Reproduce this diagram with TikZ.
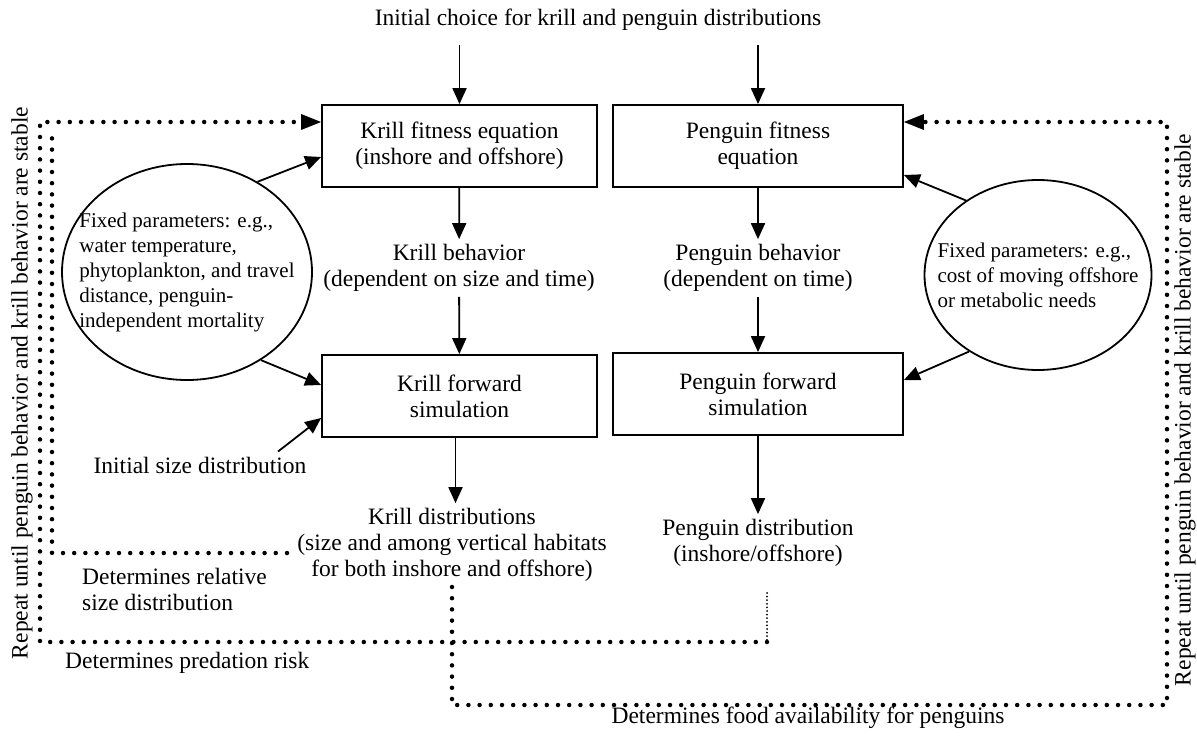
\documentclass[tikz,border=0pt]{standalone}
\usepackage{fontspec}
\setmainfont{Liberation Serif}
\usetikzlibrary{arrows.meta,shapes.geometric,positioning}
\tikzset{>={Triangle[length=16pt,width=14pt]}}

\begin{document}
\begin{tikzpicture}[x=1pt,y=-1pt,
                    txt/.style={font=\fontsize{23.5}{26}\selectfont, align=center, inner sep=5pt},
                    box/.style={txt, draw, line width=1.8pt, minimum height=82pt},
                    param/.style={ellipse, draw, line width=1.8pt, inner sep=0pt},
                    partxt/.style={font=\fontsize{21}{25}\selectfont, align=left, inner sep=0pt},
                    arr/.style={line width=1.8pt, ->},
                    loop/.style={line width=4.5pt, line cap=round, dash pattern=on 0pt off 11.2pt},
                    thinloop/.style={line width=2pt, line cap=round, dash pattern=on 0pt off 3.6pt},
                    looptip/.style={-{Triangle[length=20pt,width=16pt,line width=0pt]}},
                   ]

\useasboundingbox (0,0) rectangle (1197,736);

% main column of boxes
\node[txt] (title) at (598,20) {Initial choice for krill and penguin distributions};

\node[box, minimum width=275pt] (kfit) at (459.5,146) {Krill fitness equation\\(inshore and offshore)};
\node[box, minimum width=290pt] (pfit) at (758,146) {Penguin fitness\\equation};

\node[txt] (kbeh) at (459,268) {Krill behavior\\(dependent on size and time)};
\node[txt] (pbeh) at (758,268) {Penguin behavior\\(dependent on time)};

\node[box, minimum width=275pt] (kfwd) at (459.5,396) {Krill forward\\simulation};
\node[box, minimum width=290pt] (pfwd) at (758,394) {Penguin forward\\simulation};

\node[txt] (kdist) at (452,545) {Krill distributions\\(size and among vertical habitats\\for both inshore and offshore)};
\node[txt] (pdist) at (758,543) {Penguin distribution\\(inshore/offshore)};

% fixed parameters
\node[param, minimum width=250pt, minimum height=216pt] (kpar) at (187,272) {};
\node[partxt] (kpartxt) at (kpar.center) {Fixed parameters: e.g.,\\water temperature,\\phytoplankton, and travel\\distance, penguin-\\independent mortality};
\node[param, minimum width=227pt, minimum height=190pt] (ppar) at (1038,275) {};
\node[partxt] (ppartxt) at (ppar.center) {Fixed parameters: e.g.,\\cost of moving offshore\\or metabolic needs};

\node[txt] (isize) at (200,465) {Initial size distribution};

% labels of the loops
\node[txt, align=left, anchor=west] (relsize) at (77,589) {Determines relative\\size distribution};
\node[txt, anchor=west] (predrisk) at (60,663) {Determines predation risk};
\node[txt] (food) at (808,718) {Determines food availability for penguins};
\node[txt, rotate=90] (lrep) at (22,383) {Repeat until penguin behavior and krill behavior are stable};
\node[txt, rotate=90] (rrep) at (1185,410) {Repeat until penguin behavior and krill behavior are stable};

% solid arrows
\coordinate (kin) at (459.5,45);
\coordinate (pin) at (758,45);
\draw[arr] (kin) -- (kfit);
\draw[arr] (pin) -- (pfit);
\draw[arr] (kfit) -- (kbeh);
\draw[arr] (kbeh) -- (kfwd);
\draw[arr] ([xshift=-4pt]kfwd.south) -- ([xshift=-4pt]kfwd.south |- kdist.north);
\draw[arr] (pfit) -- (pbeh);
\draw[arr] (pbeh) -- (pfwd);
\draw[arr] (pfwd) -- (pdist);

\draw[arr] (kpar.52) -- ([yshift=-11pt]kfit.west);
\draw[arr] (kpar.-50) -- ([yshift=11pt]kfwd.west);
\draw[arr] ([xshift=78pt]isize.north) -- ([yshift=-22pt]kfwd.west);
\draw[arr] (ppar.134) -- ([yshift=-29pt]pfit.east);
\draw[arr] (ppar.228) -- ([yshift=14pt]pfwd.east);

% dotted loops
\coordinate (kdot) at (452,587);
\coordinate (kdotbot) at (452,705);
\coordinate (brc) at (1167,705);
\coordinate (trc) at (1167,122);
\draw[loop, looptip] (kdot) -- (kdotbot) -- (brc) -- (trc) -- ([yshift=24pt]pfit.east);

\coordinate (pdot) at (767,593);
\coordinate (pdotbot) at (767,642);
\coordinate (blc) at (40,642);
\coordinate (tlc) at (40,122);
\draw[thinloop] (pdot) -- (pdotbot);
\draw[loop, looptip] (pdotbot) -- (blc) -- (tlc) -- ([yshift=24pt]kfit.west);

\coordinate (rstart) at (287,553);
\coordinate (rcorner) at (52,553);
\coordinate (rtop) at (52,132);
\draw[loop] (rstart) -- (rcorner) -- (rtop);

\end{tikzpicture}
\end{document}
